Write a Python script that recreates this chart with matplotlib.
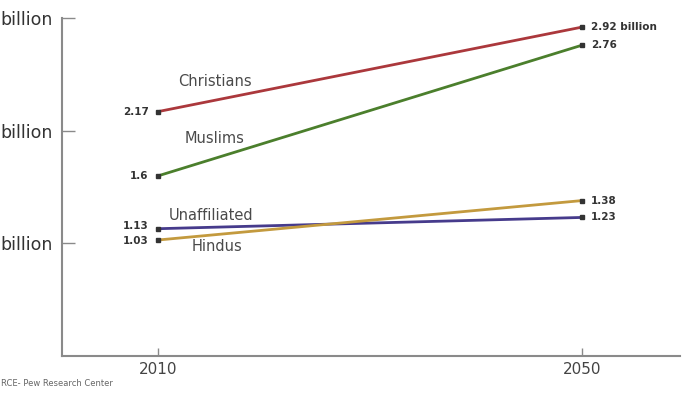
import matplotlib
matplotlib.use("Agg")
from matplotlib import pyplot as plt

# data
years = [2010, 2050]
groups = ["Christians", "Muslims", "Unaffiliated", "Hindus"]
christians = [2.17, 2.92]
muslims = [1.6, 2.76]
unaffiliated = [1.13, 1.23]
hindus = [1.03, 1.38]
left_labels = ["2.17", "1.6", "1.13", "1.03"]
right_labels = ["2.92 billion", "2.76", "1.23", "1.38"]
y_ticks = [1, 2, 3]
# the reference is cropped on the left, only this part of the labels shows
y_tick_labels = ["billion", "billion", "billion"]
source = "RCE- Pew Research Center"

colors = ["#ab383c", "#4b7f2c", "#463b8c", "#c39a3e"]
series = [christians, muslims, unaffiliated, hindus]
# where each group name sits (data coords) and left-label nudges in points
name_pos = [(2015.3, 2.44), (2015.3, 1.93), (2015.0, 1.25), (2015.5, 0.97)]
left_nudge = [0, 0, 2, -1]

fig = plt.figure(figsize=(7.0, 3.93), dpi=100)
ax = fig.add_axes([0.0886, 0.0941, 0.8828, 0.8601])

for vals, color, name, pos, ll, rl, dy in zip(series, colors, groups, name_pos,
                                               left_labels, right_labels, left_nudge):
    ax.plot(years, vals, color=color, linewidth=2.0, solid_capstyle="butt",
            marker="s", markersize=3.5, markerfacecolor="#333333",
            markeredgecolor="#333333")
    ax.annotate(ll, (years[0], vals[0]), xytext=(-7, dy), textcoords="offset points",
                ha="right", va="center", fontsize=7.5, fontweight="bold", color="#333333")
    ax.annotate(rl, (years[1], vals[1]), xytext=(6, 0), textcoords="offset points",
                ha="left", va="center", fontsize=7.5, fontweight="bold", color="#333333")
    ax.text(pos[0], pos[1], name, ha="center", va="center", fontsize=10.5, color="#4a4a4a")

ax.set_xlim(2000.9, 2059.2)
ax.set_ylim(0, 3)
ax.set_xticks(years)
ax.set_xticklabels([str(y) for y in years])
ax.set_yticks(y_ticks)
ax.set_yticklabels(y_tick_labels)

for side in ["top", "right"]:
    ax.spines[side].set_visible(False)
for side in ["left", "bottom"]:
    ax.spines[side].set_color("#8a8a8a")
    ax.spines[side].set_linewidth(1.5)

ax.tick_params(axis="y", direction="in", length=9, width=1, color="#8a8a8a",
               labelsize=12.5, labelcolor="#333333", pad=7)
ax.tick_params(axis="x", direction="in", length=6, width=1, color="#8a8a8a",
               labelsize=11, labelcolor="#444444", pad=4)

fig.text(0.002, 0.025, source, fontsize=6, color="#666666", ha="left", va="center")

fig.savefig("out.png", dpi=100)
